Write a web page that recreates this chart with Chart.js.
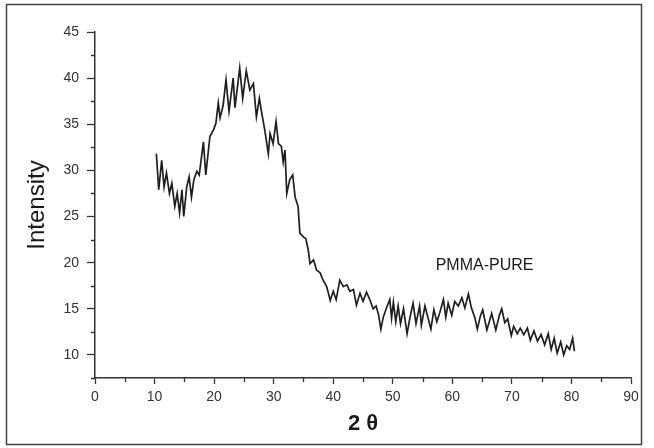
<!DOCTYPE html>
<html>
<head>
<meta charset="utf-8">
<title>PMMA-PURE XRD</title>
<script src="https://cdn.jsdelivr.net/npm/chart.js@4.4.0/dist/chart.umd.min.js"></script>
<style>
  body { margin: 0; background: #fff; }
  canvas { display: block; }
</style>
</head>
<body>
<canvas id="xrdChart" width="654" height="448"></canvas>
<script>
"use strict";

// 1: data
let twoTheta = [
  10.3, 10.7, 11.2, 11.6, 12.0, 12.5, 12.9, 13.4, 13.8, 14.2,
  14.6, 14.9, 15.4, 15.8, 16.2, 16.6, 17.1, 17.5, 18.2, 18.6,
  19.3, 19.9, 20.3, 20.7, 21.0, 21.5, 22.0, 22.5, 23.2, 23.5,
  24.3, 24.8, 25.4, 26.0, 26.6, 27.1, 27.6, 28.0, 28.5, 29.1,
  29.4, 29.9, 30.4, 30.8, 31.3, 31.6, 31.9, 32.2, 32.7, 33.2,
  33.6, 34.1, 34.4, 35.0, 35.4, 35.8, 36.1, 36.7, 37.2, 37.8,
  38.3, 38.9, 39.5, 40.0, 40.5, 41.1, 41.7, 42.3, 42.8, 43.4,
  43.9, 44.5, 45.0, 45.6, 46.2, 46.7, 47.2, 47.6, 48.0, 48.4,
  49.0, 49.5, 49.8, 50.1, 50.5, 50.9, 51.3, 51.8, 52.4, 52.9,
  53.4, 53.9, 54.5, 54.8, 55.4, 56.0, 56.4, 56.9, 57.4, 57.9,
  58.5, 58.9, 59.3, 59.9, 60.4, 61.0, 61.6, 62.1, 62.7, 63.2,
  63.8, 64.2, 64.7, 65.1, 65.8, 66.6, 67.3, 67.9, 68.3, 68.8,
  69.3, 69.9, 70.3, 70.9, 71.4, 72.0, 72.6, 73.1, 73.7, 74.3,
  74.9, 75.5, 76.1, 76.6, 77.1, 77.6, 78.2, 78.7, 79.2, 79.7,
  80.2, 80.5
];
let intensity = [
  31.8, 27.9, 31.1, 28.2, 29.7, 27.5, 28.6, 26.1, 27.5, 25.4,
  27.9, 25.0, 28.2, 29.3, 27.1, 29.0, 29.9, 29.5, 33.1, 29.5,
  33.7, 34.4, 35.1, 37.3, 35.7, 37.0, 39.8, 36.4, 40.0, 36.8,
  41.1, 37.8, 40.8, 38.7, 39.4, 35.8, 37.8, 36.2, 34.4, 31.8,
  34.0, 32.9, 35.3, 32.9, 32.6, 30.9, 32.2, 27.5, 29.0, 29.5,
  27.1, 26.1, 23.2, 22.8, 22.6, 21.4, 19.9, 20.3, 19.2, 18.9,
  18.1, 17.4, 15.9, 16.9, 16.0, 18.1, 17.4, 17.6, 16.9, 17.1,
  15.4, 16.7, 15.8, 16.8, 15.9, 15.0, 15.3, 14.4, 12.8, 14.1,
  15.2, 16.0, 14.0, 15.7, 13.6, 15.3, 13.4, 15.0, 12.3, 14.1,
  15.6, 13.4, 15.3, 13.2, 15.3, 13.8, 12.8, 14.9, 13.6, 14.6,
  16.0, 14.1, 15.6, 14.3, 15.8, 15.3, 16.2, 15.1, 16.6, 15.1,
  14.0, 12.8, 14.2, 14.9, 12.7, 14.5, 12.7, 14.3, 15.0, 13.5,
  13.9, 12.1, 13.1, 12.3, 12.9, 12.2, 12.9, 11.6, 12.6, 11.5,
  12.2, 11.1, 12.3, 10.6, 11.8, 10.2, 11.4, 10.0, 11.0, 10.6,
  11.8, 10.4
];
let xMinorTicks = [5, 15, 25, 35, 45, 55, 65, 75, 85];
let yMinorTicks = [7.5, 12.5, 17.5, 22.5, 27.5, 32.5, 37.5, 42.5];
let sampleLabel = 'PMMA-PURE';

// 2: prepare points for the chart
function prepareData(xs, ys) {
  let points = [];
  for (let i = 0; i < xs.length; i++) {
    points.push({ x: xs[i], y: ys[i] });
  }
  return points;
}

// minor ticks, the sample label and the scan frame
const extras = {
  id: 'extras',
  afterDraw(chart) {
    const ctx = chart.ctx;
    const xs = chart.scales.x;
    const ys = chart.scales.y;
    ctx.save();
    ctx.strokeStyle = '#333';
    ctx.lineWidth = 1.3;
    ctx.beginPath();
    for (const v of xMinorTicks) {
      const px = Math.round(xs.getPixelForValue(v)) + 0.5;
      ctx.moveTo(px, xs.top);
      ctx.lineTo(px, xs.top + 4);
    }
    for (const v of yMinorTicks) {
      const py = Math.round(ys.getPixelForValue(v)) + 0.5;
      ctx.moveTo(ys.right, py);
      ctx.lineTo(ys.right - 4, py);
    }
    ctx.stroke();

    ctx.fillStyle = '#1a1a1a';
    ctx.font = '16px "Liberation Sans", Arial, sans-serif';
    ctx.textAlign = 'left';
    ctx.textBaseline = 'alphabetic';
    ctx.fillText(sampleLabel, xs.getPixelForValue(57.2), ys.getPixelForValue(19.2));

    ctx.strokeStyle = '#444';
    ctx.lineWidth = 1.5;
    ctx.strokeRect(6.5, 4.5, 635, 440);
    ctx.restore();
  }
};

// 3: create the chart
function appendChart() {
  let points = prepareData(twoTheta, intensity);
  let chartContainer = document.getElementById('xrdChart');
  let tickFont = { family: '"Liberation Sans", Arial, sans-serif', size: 14 };
  return new Chart(chartContainer, {
    type: 'line',
    data: {
      datasets: [{
        data: points,
        label: sampleLabel,
        borderColor: '#1e1e1e',
        borderWidth: 1.7,
        pointRadius: 0,
        tension: 0,
        fill: false
      }]
    },
    options: {
      responsive: false,
      animation: false,
      devicePixelRatio: 1,
      layout: { padding: { left: 0, top: 32, right: 23, bottom: 0 } },
      plugins: {
        legend: { display: false },
        tooltip: { enabled: false }
      },
      scales: {
        x: {
          type: 'linear',
          min: 0,
          max: 90,
          afterFit: function (scale) { scale.height = 70; },
          border: { display: true, color: '#333', width: 1.5 },
          grid: { drawOnChartArea: false, drawTicks: true, tickLength: 6, color: '#333', tickWidth: 1.3 },
          ticks: { stepSize: 10, padding: 5, color: '#333', font: tickFont, maxRotation: 0 },
          title: {
            display: true,
            text: '2 θ',
            color: '#1a1a1a',
            font: { family: '"Liberation Sans", Arial, sans-serif', size: 22, weight: 'bold' },
            padding: { top: 0, bottom: 11 }
          }
        },
        y: {
          min: 7.5,
          max: 45,
          afterFit: function (scale) { scale.width = 95; },
          border: { display: true, color: '#333', width: 1.5 },
          grid: { drawOnChartArea: false, drawTicks: true, tickLength: 8, color: '#333', tickWidth: 1.3 },
          ticks: { stepSize: 5, includeBounds: false, padding: 8, color: '#333', font: tickFont },
          title: {
            display: true,
            text: 'Intensity',
            color: '#1a1a1a',
            font: { family: '"Liberation Sans", Arial, sans-serif', size: 24 },
            padding: { top: 23, bottom: 0 }
          }
        }
      }
    },
    plugins: [extras]
  });
}

appendChart();
</script>
</body>
</html>
